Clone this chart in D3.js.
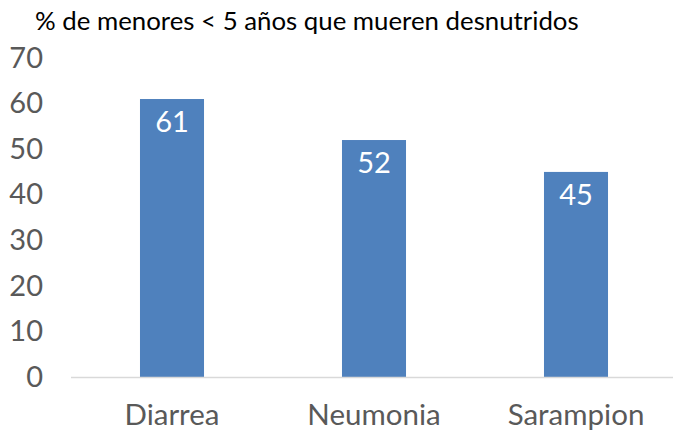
<!DOCTYPE html>
<html>
<head>
<meta charset="utf-8">
<script src="https://cdn.jsdelivr.net/npm/d3@7"></script>
<style>
  body { margin: 0; background: #fff; }
  svg { display: block; font-family: Lato, "Open Sans", sans-serif; }
</style>
</head>
<body>
<svg id="chart"></svg>
<script>
const categories = ['Diarrea', 'Neumonia', 'Sarampion'];
const values = [61, 52, 45];
const yTicks = [0, 10, 20, 30, 40, 50, 60, 70];
const title = '% de menores < 5 años que mueren desnutridos';

const width = 673;
const height = 433;
const margin = { top: 58, right: -4, bottom: 56, left: 71 };

const svg = d3.select('#chart')
  .attr('width', width)
  .attr('height', height);

const x = d3.scaleBand()
  .domain(categories)
  .range([margin.left, width - margin.right])
  .paddingInner(0.683)
  .paddingOuter(0.3415);

const y = d3.scaleLinear()
  .domain([0, 70])
  .range([height - margin.bottom, margin.top]);

// title
svg.append('text')
  .attr('x', 35)
  .attr('y', 30)
  .style('font-size', '25.8px')
  .style('fill', '#000')
  .text(title);

// y tick labels (no axis line, no gridlines)
const yAxis = svg.append('g')
  .attr('transform', `translate(${margin.left},0)`)
  .call(d3.axisLeft(y).tickValues(yTicks).tickSize(0).tickPadding(28));
yAxis.select('.domain').remove();
yAxis.selectAll('text')
  .style('font-family', 'Lato, sans-serif')
  .style('font-size', '29px')
  .style('fill', '#595959');

// bars
svg.selectAll('.bar')
  .data(values)
  .enter()
  .append('rect')
  .attr('class', 'bar')
  .attr('x', (d, i) => x(categories[i]))
  .attr('y', d => y(d))
  .attr('width', x.bandwidth())
  .attr('height', d => y(0) - y(d))
  .attr('fill', '#4f81bd');

// baseline
svg.append('line')
  .attr('x1', margin.left)
  .attr('x2', width)
  .attr('y1', y(0) + 0.5)
  .attr('y2', y(0) + 0.5)
  .attr('stroke', '#d9d9d9')
  .attr('stroke-width', 1.5);

// x labels
const xAxis = svg.append('g')
  .attr('transform', `translate(0,${y(0)})`)
  .call(d3.axisBottom(x).tickSize(0).tickPadding(27));
xAxis.select('.domain').remove();
xAxis.selectAll('text')
  .style('font-family', 'Lato, sans-serif')
  .style('font-size', '29.5px')
  .style('fill', '#595959');

// value labels inside bars
svg.selectAll('.label')
  .data(values)
  .enter()
  .append('text')
  .attr('class', 'label')
  .attr('x', (d, i) => x(categories[i]) + x.bandwidth() / 2)
  .attr('y', d => y(d) + 33)
  .attr('text-anchor', 'middle')
  .style('font-size', '29px')
  .style('fill', '#fff')
  .text(d => d);
</script>
</body>
</html>
